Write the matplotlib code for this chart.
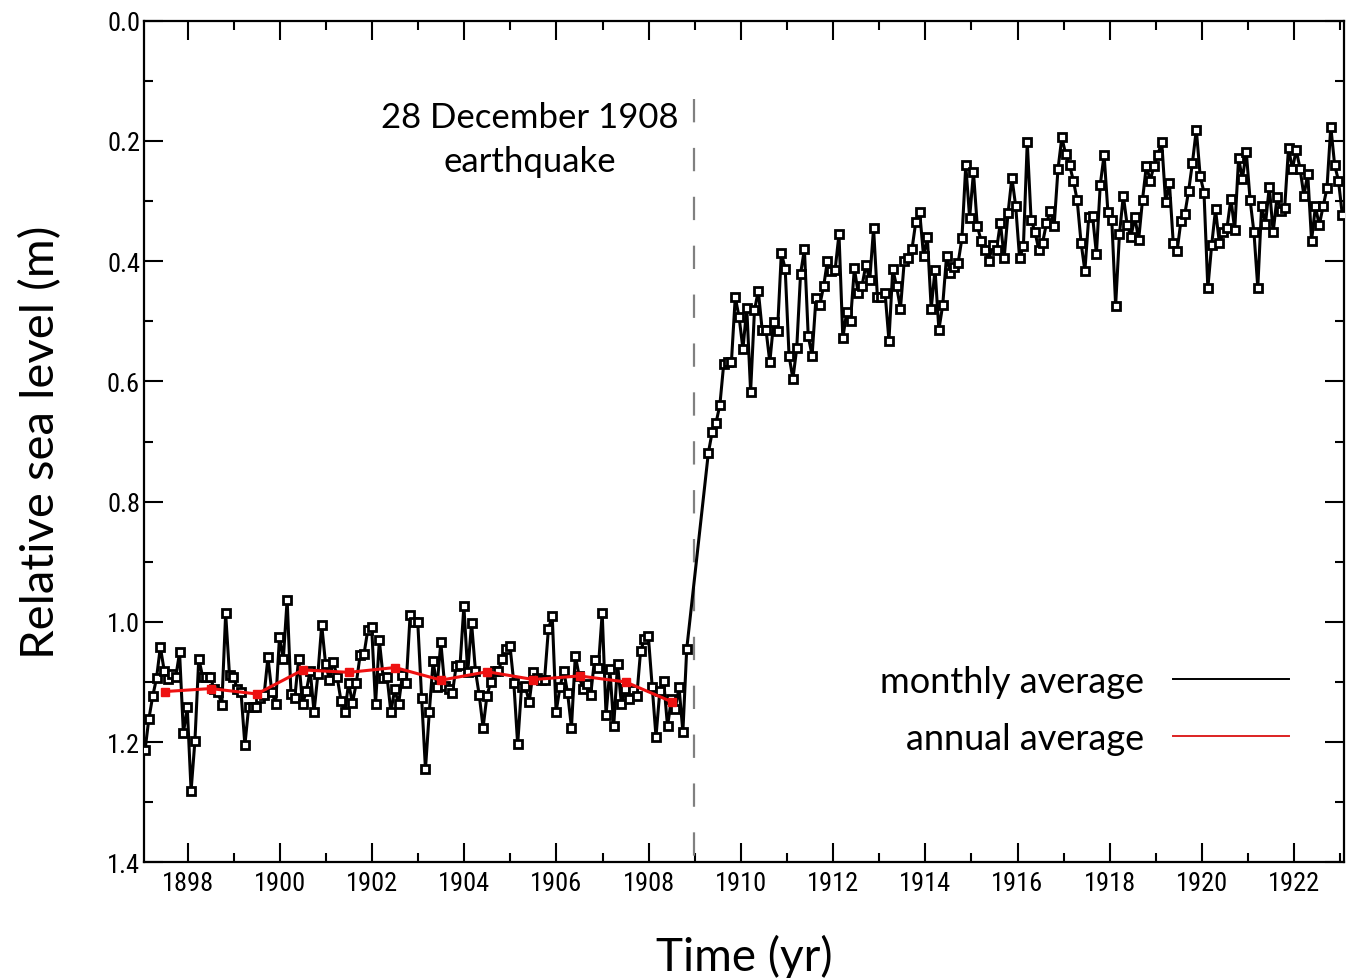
import numpy as np
import matplotlib
matplotlib.use("Agg")
import matplotlib.pyplot as plt
from matplotlib.ticker import MultipleLocator
from matplotlib import font_manager

# ---------------- data ----------------
# monthly averages before the earthquake (first month ~ Jan 1897)
pre_start = 1897.075
pre_monthly = [
    1.214, 1.162, 1.124, 1.094, 1.042, 1.081, 1.095, 1.087, 1.092, 1.051,
    1.185, 1.142, 1.281, 1.198, 1.061, 1.091, 1.092, 1.092, 1.112, 1.117,
    1.138, 0.986, 1.089, 1.091, 1.111, 1.117, 1.205, 1.141, 1.141, 1.142,
    1.126, 1.122, 1.059, 1.116, 1.137, 1.026, 1.062, 0.963, 1.120, 1.126,
    1.061, 1.137, 1.115, 1.081, 1.150, 1.087, 1.005, 1.070, 1.096, 1.066,
    1.091, 1.131, 1.150, 1.102, 1.135, 1.102, 1.055, 1.054, 1.013, 1.009,
    1.137, 1.031, 1.093, 1.091, 1.150, 1.112, 1.137, 1.089, 1.102, 0.989,
    1.000, 1.001, 1.126, 1.245, 1.150, 1.065, 1.109, 1.034, 1.106, 1.111,
    1.119, 1.073, 1.072, 0.974, 1.084, 1.002, 1.081, 1.122, 1.176, 1.123,
    1.100, 1.081, 1.081, 1.061, 1.045, 1.040, 1.102, 1.204, 1.109, 1.107,
    1.134, 1.083, 1.094, 1.096, 1.096, 1.012, 0.990, 1.150, 1.109, 1.081,
    1.119, 1.176, 1.056, 1.090, 1.112, 1.104, 1.122, 1.063, 1.076, 0.985,
    1.155, 1.079, 1.173, 1.070, 1.137, 1.111, 1.129, 1.113, 1.124, 1.048,
    1.029, 1.023, 1.108, 1.191, 1.115, 1.098, 1.174, 1.129, 1.145, 1.109,
    1.183, 1.045,
]
# monthly averages after the earthquake (record resumes ~ spring 1909)
post_start = 1909.294
post_monthly = [
    0.719, 0.684, 0.669, 0.639, 0.571, 0.568, 0.568, 0.460, 0.493, 0.546,
    0.478, 0.617, 0.482, 0.449, 0.514, 0.514, 0.568, 0.501, 0.516, 0.386,
    0.413, 0.557, 0.596, 0.545, 0.421, 0.380, 0.525, 0.557, 0.462, 0.473,
    0.442, 0.399, 0.416, 0.414, 0.355, 0.528, 0.485, 0.499, 0.412, 0.453,
    0.441, 0.406, 0.432, 0.345, 0.460, 0.460, 0.453, 0.532, 0.413, 0.442,
    0.479, 0.399, 0.395, 0.380, 0.334, 0.318, 0.391, 0.360, 0.479, 0.414,
    0.514, 0.473, 0.391, 0.420, 0.410, 0.403, 0.362, 0.240, 0.328, 0.252,
    0.342, 0.366, 0.381, 0.399, 0.373, 0.381, 0.336, 0.394, 0.320, 0.261,
    0.309, 0.395, 0.375, 0.202, 0.331, 0.351, 0.381, 0.369, 0.337, 0.316,
    0.341, 0.247, 0.194, 0.222, 0.240, 0.266, 0.299, 0.369, 0.416, 0.327,
    0.325, 0.388, 0.273, 0.223, 0.319, 0.331, 0.474, 0.355, 0.291, 0.340,
    0.359, 0.327, 0.364, 0.298, 0.241, 0.266, 0.241, 0.223, 0.201, 0.301,
    0.270, 0.370, 0.383, 0.333, 0.322, 0.283, 0.236, 0.181, 0.258, 0.286,
    0.445, 0.373, 0.314, 0.370, 0.352, 0.344, 0.296, 0.348, 0.229, 0.263,
    0.218, 0.298, 0.352, 0.444, 0.308, 0.338, 0.276, 0.352, 0.294, 0.316,
    0.311, 0.211, 0.247, 0.215, 0.246, 0.291, 0.255, 0.366, 0.309, 0.340,
    0.309, 0.279, 0.176, 0.240, 0.266, 0.323,
]
# annual averages (mid-year) before the earthquake
annual_years = [1897.5, 1898.5, 1899.5, 1900.5, 1901.5, 1902.5,
                1903.5, 1904.5, 1905.5, 1906.5, 1907.5, 1908.5]
annual_values = [1.116, 1.111, 1.120, 1.080, 1.084, 1.076,
                 1.097, 1.083, 1.096, 1.090, 1.100, 1.133]

quake_time = 1908.99
annotation = "28 December 1908\nearthquake"
xtick_years = list(range(1898, 1923, 2))
ytick_values = [0.0, 0.2, 0.4, 0.6, 0.8, 1.0, 1.2, 1.4]

# ---------------- plot ----------------
months_per_year = 12.0
t_pre = pre_start + np.arange(len(pre_monthly)) / months_per_year
t_post = post_start + np.arange(len(post_monthly)) / months_per_year
t_all = np.concatenate([t_pre, t_post])
v_all = np.concatenate([pre_monthly, post_monthly])

avail = {f.name for f in font_manager.fontManager.ttflist}
tick_font = "DejaVu Sans"
for cand in ["Liberation Sans Narrow", "DejaVu Sans Condensed", "Roboto Condensed",
             "Open Sans Condensed", "Noto Sans Condensed", "Roboto"]:
    if cand in avail:
        tick_font = cand
        break
text_font = "Lato"

fig = plt.figure(figsize=(13.51, 9.79), dpi=100)
ax = fig.add_axes([0.1068, 0.1182, 0.9948 - 0.1068, 0.9778 - 0.1182])

ax.plot(t_all, v_all, color="black", lw=2.2, marker="s", ms=6,
        mfc="white", mec="black", mew=2.0, zorder=3)
ax.plot(annual_years, annual_values, color="#ee1111", lw=2.2, marker="s",
        ms=5.5, mfc="#ee1111", mec="#ee1111", zorder=4)

ax.plot([quake_time, quake_time], [0.13, 1.4], color="#808080", lw=1.6,
        linestyle=(0, (10.5, 11.5)), zorder=2)

ax.text(1905.43, 0.197, annotation, ha="center", va="center", fontsize=25,
        family=text_font, linespacing=1.45)

# legend
h1, = ax.plot([], [], color="black", lw=1.4, label="monthly average")
h2, = ax.plot([], [], color="#dd2222", lw=1.4, label="annual average")
leg = ax.legend(handles=[h1, h2], loc="center right",
                bbox_to_anchor=(0.954, 0.181), frameon=False, markerfirst=False,
                handlelength=3.2, handletextpad=0.8, labelspacing=0.66,
                borderpad=0, borderaxespad=0,
                prop={"family": text_font, "size": 26})

ax.set_xlim(1897.06, 1923.08)
ax.set_ylim(1.4, 0.0)
ax.set_xticks(xtick_years)
ax.set_yticks(ytick_values)
ax.xaxis.set_minor_locator(MultipleLocator(1))
ax.yaxis.set_minor_locator(MultipleLocator(0.1))
ax.set_yticklabels([f"{v:.1f}" for v in ytick_values])

ax.tick_params(which="both", direction="in", top=True, right=True, width=1.5)
ax.tick_params(which="major", length=13.5)
ax.tick_params(which="minor", length=6.5)
ax.tick_params(axis="x", pad=6)
ax.tick_params(axis="y", pad=3)
for lab in ax.get_xticklabels() + ax.get_yticklabels():
    lab.set_family(tick_font)
    lab.set_fontsize(19)
for s in ax.spines.values():
    s.set_linewidth(1.6)

ax.set_xlabel("Time (yr)", family=text_font, fontsize=33, labelpad=28)
ax.set_ylabel("Relative sea level (m)", family=text_font, fontsize=34, labelpad=32)

fig.savefig("out.png", dpi=100)
